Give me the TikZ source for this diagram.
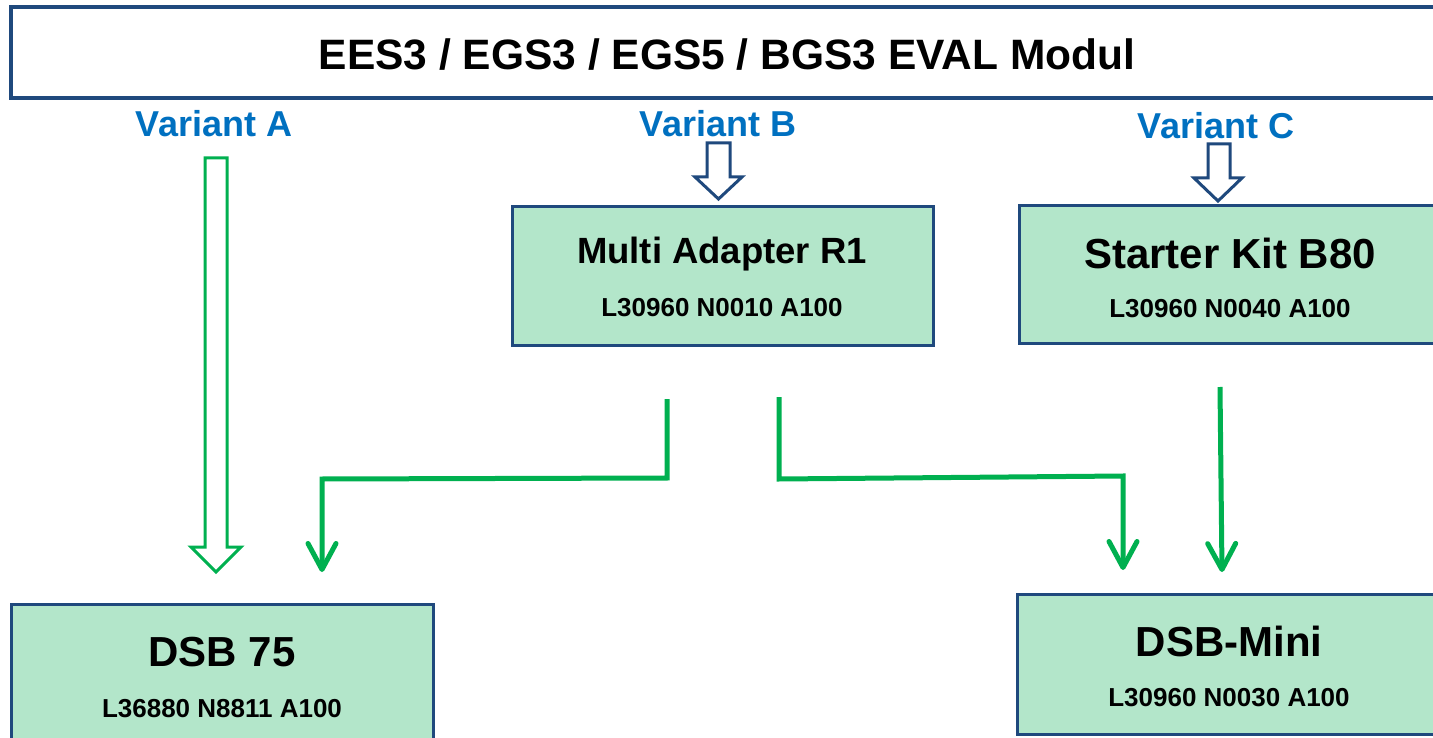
\documentclass[tikz,border=0pt]{standalone}
\usepackage{fontspec}
\setmainfont{Liberation Sans}
\usetikzlibrary{arrows.meta}
\definecolor{frameblue}{RGB}{31,73,125}
\definecolor{textblue}{RGB}{0,112,192}
\definecolor{arrowgreen}{RGB}{0,176,80}
\definecolor{mint}{RGB}{179,230,202}
\tikzset{
  boxnode/.style={draw=frameblue, line width=3pt, fill=mint, rectangle, inner sep=0pt},
  bigtext/.style={font=\fontsize{42}{48}\selectfont\bfseries, inner sep=0pt, anchor=center},
  midtext/.style={font=\fontsize{36.5}{42}\selectfont\bfseries, inner sep=0pt, anchor=center},
  codetext/.style={font=\fontsize{26}{30}\selectfont\bfseries, inner sep=0pt, anchor=center},
  varianttext/.style={font=\fontsize{36}{40}\selectfont\bfseries, text=textblue, inner sep=0pt, anchor=center},
  greenline/.style={draw=arrowgreen, line width=5pt, line join=miter,
    -{Straight Barb[length=26pt, width=28pt, line width=5pt, round]}},
  hollowgreen/.style={draw=arrowgreen, line width=3pt, fill=white, line join=miter},
  hollowblue/.style={draw=frameblue, line width=3pt, fill=white, line join=miter},
}
\begin{document}
\begin{tikzpicture}[x=1pt, y=-1pt]
\useasboundingbox (0,0) rectangle (1433,738);
\clip (0,0) rectangle (1433,738);
\fill[white] (0,0) rectangle (1433,738);

% title bar
\node[draw=frameblue, line width=4pt, fill=white, rectangle, inner sep=0pt,
      minimum width=1440pt, minimum height=91pt] (title) at (731,52.5) {};
\node[font=\fontsize{42.5}{48}\selectfont\bfseries, inner sep=0pt] (titletext) at (727,55) {EES3 / EGS3 / EGS5 / BGS3 EVAL Modul};

% variant labels
\node[varianttext] (va) at (214,124) {Variant A};
\node[varianttext] (vb) at (718,124) {Variant B};
\node[varianttext] (vc) at (1216,126) {Variant C};

% boxes
\node[boxnode, minimum width=421pt, minimum height=138pt] (ma) at (722.5,276) {};
\node[midtext] (matitle) at (722,254) {Multi Adapter R1};
\node[codetext] (macode) at (722,308) {L30960 N0010 A100};

\node[boxnode, minimum width=430pt, minimum height=137pt] (sk) at (1234,274.5) {};
\node[bigtext] (sktitle) at (1230,253) {Starter Kit B80};
\node[codetext] (skcode) at (1230,309) {L30960 N0040 A100};

\node[boxnode, minimum width=422pt, minimum height=160pt] (d75) at (222.5,684) {};
\node[bigtext] (d75title) at (222,652) {DSB 75};
\node[codetext] (d75code) at (222,709) {L36880 N8811 A100};

\node[boxnode, minimum width=430pt, minimum height=140pt] (dmini) at (1232,664) {};
\node[bigtext] (dminititle) at (1229,641) {DSB-Mini};
\node[codetext] (dminicode) at (1229,698) {L30960 N0030 A100};

% hollow block arrows
\draw[hollowgreen] (205,158) -- (227,158) -- (227,547) -- (241,547) -- (216,572) -- (191,547) -- (205,547) -- cycle;
\draw[hollowblue] (707,143) -- (730,143) -- (730,177) -- (742,177) -- (718.5,199) -- (695,177) -- (707,177) -- cycle;
\draw[hollowblue] (1208,144) -- (1230,144) -- (1230,178) -- (1242,178) -- (1218,201) -- (1194,178) -- (1208,178) -- cycle;

% green connectors
\coordinate (maL) at (667,399);
\coordinate (maR) at (779,397);
\coordinate (skB) at (1220,387);
\coordinate (d75in) at (322,572);
\coordinate (dminiinL) at (1123,570);
\coordinate (dminiinR) at (1222,572);

\draw[greenline] (maL) -- (667,478) -- (322,479) -- (d75in);
\draw[greenline] (maR) -- (779,479) -- (1123,476) -- (dminiinL);
\draw[greenline] (skB) -- (dminiinR);
\end{tikzpicture}
\end{document}
